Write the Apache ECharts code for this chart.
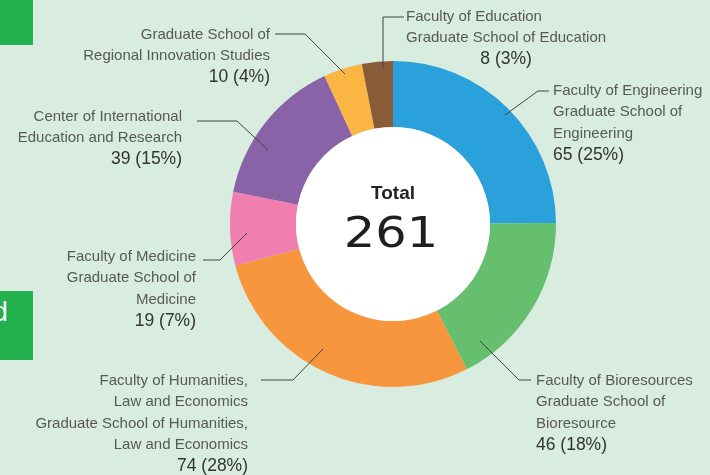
<!DOCTYPE html>
<html>
<head>
<meta charset="utf-8">
<script src="https://cdn.jsdelivr.net/npm/echarts@6/dist/echarts.min.js"></script>
<style>
  html, body { margin: 0; padding: 0; background: #d8ece0; }
  #main { width: 710px; height: 475px; }
</style>
</head>
<body>
<div id="main"></div>
<script>
// slices, clockwise from 12 o'clock
var categories = [
  "Faculty of Engineering\nGraduate School of\nEngineering",
  "Faculty of Bioresources\nGraduate School of\nBioresource",
  "Faculty of Humanities,\nLaw and Economics\nGraduate School of Humanities,\nLaw and Economics",
  "Faculty of Medicine\nGraduate School of\nMedicine",
  "Center of International\nEducation and Research",
  "Graduate School of\nRegional Innovation Studies",
  "Faculty of Education\nGraduate School of Education"
];
var values = [65, 46, 74, 19, 39, 10, 8];
var colors = ["#2ba1dc", "#66be6f", "#f7963c", "#f07fb0", "#8a62a8", "#fbb542", "#8a5b37"];

// where each label sits (align, x, top y) and its leader line
var labelSpots = [
  { align: "left", x: 553, y: 80, line: [[505, 115], [538, 91], [549, 91]] },
  { align: "left", x: 536, y: 370, line: [[480, 341], [519, 380], [531, 380]] },
  { align: "right", x: 248, y: 370, line: [[323, 349], [293, 380], [261, 380]] },
  { align: "right", x: 196, y: 246, line: [[247, 233], [220, 260], [203, 260]] },
  { align: "right", x: 182, y: 106, line: [[268, 150], [237, 121], [197, 121]] },
  { align: "right", x: 270, y: 24, line: [[345, 74], [305, 34], [275, 34]] },
  { align: "left", x: 406, y: 6, line: [[383, 68], [383, 17], [404, 17]], centerValue: true }
];

var total = values.reduce(function (a, b) { return a + b; }, 0);

var chart = echarts.init(document.getElementById("main"));

var font = "'Liberation Sans', Arial, sans-serif";

// coloured ring, no labels
var ringData = values.map(function (v, i) {
  return { name: categories[i], value: v, itemStyle: { color: colors[i] } };
});
// same slices, transparent, carrying the labels so the leader lines sit on top
var labelData = values.map(function (v, i) {
  return { name: categories[i], value: v, itemStyle: { color: "rgba(0,0,0,0)" } };
});

var option = {
  backgroundColor: "#d8ece0",
  animation: false,
  graphic: [
    { type: "rect", shape: { x: 0, y: 0, width: 33, height: 45 }, style: { fill: "#22b14c" } },
    { type: "rect", shape: { x: 0, y: 291, width: 33, height: 69 }, style: { fill: "#22b14c" } },
    { type: "text", x: 8, y: 313, style: { text: "d", fill: "#fff", font: "28px " + font, align: "right", verticalAlign: "middle" } },
    { type: "text", x: 393, y: 194, z: 10, style: { text: "Total", fill: "#222", font: "bold 19px " + font, align: "center", verticalAlign: "middle" } },
    { type: "text", x: 391, y: 236, z: 10, originX: 0, scaleX: 1.15, style: { text: String(total), fill: "#1f1f1f", font: "43px 'DejaVu Sans', sans-serif", align: "center", verticalAlign: "middle" } }
  ],
  series: [
    {
      type: "pie",
      z: 2,
      center: [393, 224],
      radius: [97, 163],
      startAngle: 90,
      clockwise: true,
      silent: true,
      label: { show: false },
      labelLine: { show: false },
      data: ringData
    },
    {
      type: "pie",
      z: 3,
      center: [393, 224],
      radius: [97, 163],
      startAngle: 90,
      clockwise: true,
      avoidLabelOverlap: false,
      silent: true,
      data: labelData,
      label: {
        show: true,
        position: "outside",
        formatter: function (p) {
          var spot = labelSpots[p.dataIndex];
          var lines = p.name.split("\n").map(function (s) {
            return "{" + (spot.align === "left" ? "nl" : "nr") + "|" + s + "}";
          });
          var key = spot.centerValue ? "vc" : (spot.align === "left" ? "vl" : "vr");
          lines.push("{" + key + "|" + p.value + " (" + Math.round(p.percent) + "%)}");
          return lines.join("\n");
        },
        rich: {
          nl: { fontSize: 15, lineHeight: 21.5, color: "#585858", align: "left", fontFamily: font },
          nr: { fontSize: 15, lineHeight: 21.5, color: "#585858", align: "right", fontFamily: font },
          vl: { fontSize: 17.5, lineHeight: 21, color: "#333", align: "left", fontFamily: font },
          vr: { fontSize: 17.5, lineHeight: 21, color: "#333", align: "right", fontFamily: font },
          vc: { fontSize: 17.5, lineHeight: 21, color: "#333", align: "center", fontFamily: font }
        }
      },
      labelLine: {
        show: true,
        lineStyle: { color: "#444", width: 1 }
      },
      labelLayout: function (params) {
        var spot = labelSpots[params.dataIndex];
        return {
          x: spot.x,
          y: spot.y,
          align: spot.align,
          verticalAlign: "top",
          labelLinePoints: spot.line
        };
      }
    },
    {
      type: "pie",
      center: [393, 224],
      radius: [0, 97],
      silent: true,
      label: { show: false },
      labelLine: { show: false },
      data: [{ value: 1, itemStyle: { color: "#ffffff" } }]
    }
  ]
};

chart.setOption(option);
</script>
</body>
</html>
